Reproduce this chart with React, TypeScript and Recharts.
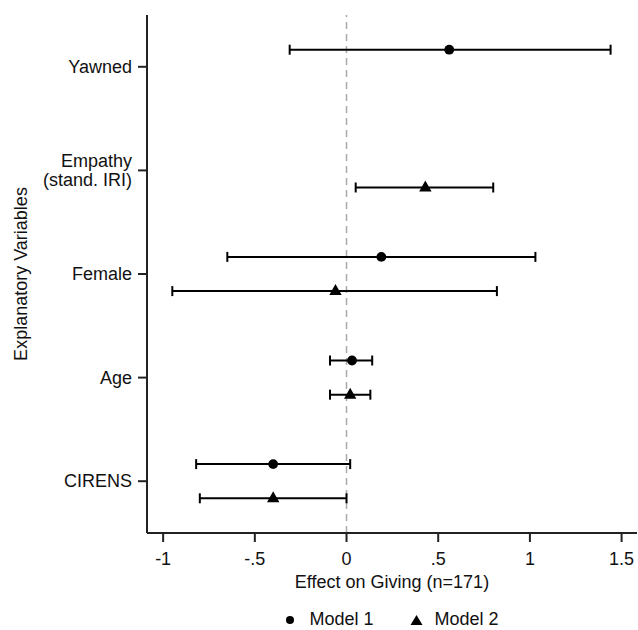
import React from 'react';
import {
  ErrorBar,
  Legend,
  ReferenceLine,
  Scatter,
  ScatterChart,
  XAxis,
  YAxis,
} from 'recharts';

const variables = ['Yawned', 'Empathy\n(stand. IRI)', 'Female', 'Age', 'CIRENS'];

// estimate, lower CI, upper CI per variable
const model1 = [
  { variable: 'Yawned', est: 0.56, lo: -0.31, hi: 1.44 },
  { variable: 'Female', est: 0.19, lo: -0.65, hi: 1.03 },
  { variable: 'Age', est: 0.03, lo: -0.09, hi: 0.14 },
  { variable: 'CIRENS', est: -0.4, lo: -0.82, hi: 0.02 },
];

const model2 = [
  { variable: 'Empathy\n(stand. IRI)', est: 0.43, lo: 0.05, hi: 0.8 },
  { variable: 'Female', est: -0.06, lo: -0.95, hi: 0.82 },
  { variable: 'Age', est: 0.02, lo: -0.09, hi: 0.13 },
  { variable: 'CIRENS', est: -0.4, lo: -0.8, hi: 0.0 },
];

const xTicks = [-1, -0.5, 0, 0.5, 1, 1.5];
const xTickLabels = ['-1', '-.5', '0', '.5', '1', '1.5'];

const FONT = '"Liberation Sans", Arial, sans-serif';
const OFFSET = 0.165;

const toRows = (rows: typeof model1, shift: number) =>
  rows.map((r) => ({
    est: r.est,
    pos: variables.length - variables.indexOf(r.variable) + shift,
    err: [r.est - r.lo, r.hi - r.est],
  }));

const rows1 = toRows(model1, OFFSET);
const rows2 = toRows(model2, -OFFSET);

const Dot = (props: any) => <circle cx={props.cx} cy={props.cy} r={4.9} fill="#000" />;

const Tri = (props: any) => {
  const { cx, cy } = props;
  return <polygon points={`${cx - 6.2},${cy + 4} ${cx + 6.2},${cy + 4} ${cx},${cy - 7}`} fill="#000" />;
};

const YTick = (props: any) => {
  const { x, y, payload } = props;
  const label = variables[variables.length - payload.value] || '';
  const lines = label.split('\n');
  const lh = 18.5;
  const start = -((lines.length - 1) * lh) / 2;
  return (
    <text x={x} y={y} textAnchor="end" fontSize={18} fontFamily={FONT} fill="#111">
      {lines.map((l: string, i: number) => (
        <tspan key={i} x={x} dy={i === 0 ? start + 6 : lh}>
          {l}
        </tspan>
      ))}
    </text>
  );
};

const YLabel = (props: any) => {
  const { viewBox } = props;
  const cy = viewBox.y + viewBox.height / 2;
  return (
    <text
      x={21}
      y={cy}
      transform={`rotate(-90, 21, ${cy})`}
      textAnchor="middle"
      dominantBaseline="central"
      fontSize={18}
      fontFamily={FONT}
      fill="#111"
    >
      Explanatory Variables
    </text>
  );
};

const XLabel = (props: any) => {
  const { viewBox } = props;
  return (
    <text
      x={viewBox.x + viewBox.width / 2}
      y={588}
      textAnchor="middle"
      fontSize={18}
      fontFamily={FONT}
      fill="#111"
    >
      Effect on Giving (n=171)
    </text>
  );
};

const LegendContent = () => (
  <div
    style={{
      display: 'flex',
      justifyContent: 'center',
      alignItems: 'center',
      paddingTop: 14,
      height: 21,
      lineHeight: '21px',
      fontSize: 18,
      fontFamily: FONT,
      color: '#111',
    }}
  >
    <svg width={10} height={10} style={{ marginRight: 14 }}>
      <circle cx={5} cy={5} r={4} fill="#000" />
    </svg>
    <span style={{ marginRight: 36 }}>Model 1</span>
    <svg width={13} height={12} style={{ marginRight: 12 }}>
      <polygon points="0.5,11 12.5,11 6.5,1" fill="#000" />
    </svg>
    <span>Model 2</span>
  </div>
);

export default function App() {
  return (
    <div style={{ position: 'absolute', left: 0, top: 0, background: '#fff' }}>
      <ScatterChart width={638} height={630} margin={{ top: 15, right: 1, bottom: 0, left: 0 }}>
        <XAxis
          type="number"
          dataKey="est"
          domain={[-1.088, 1.584]}
          allowDataOverflow
          ticks={xTicks}
          tickFormatter={(v: number) => xTickLabels[xTicks.indexOf(v)]}
          height={62}
          tickSize={9}
          tickMargin={10}
          axisLine={{ stroke: '#222', strokeWidth: 2 }}
          tickLine={{ stroke: '#222', strokeWidth: 2 }}
          tick={{ fontSize: 18, fontFamily: FONT, fill: '#111' }}
          label={<XLabel />}
        />
        <YAxis
          type="number"
          dataKey="pos"
          domain={[0.5, 5.5]}
          allowDataOverflow
          ticks={[1, 2, 3, 4, 5]}
          width={147}
          tickSize={9}
          tickMargin={6}
          axisLine={{ stroke: '#222', strokeWidth: 2 }}
          tickLine={{ stroke: '#222', strokeWidth: 2 }}
          tick={<YTick />}
          label={<YLabel />}
        />
        <ReferenceLine x={0} stroke="#aaa" strokeWidth={1.5} strokeDasharray="7 5" />
        <Legend
          verticalAlign="bottom"
          height={35}
          wrapperStyle={{ left: 147, width: 490, height: 35, overflow: 'visible' }}
          content={<LegendContent />}
        />
        <Scatter name="Model 1" data={rows1} shape={<Dot />} isAnimationActive={false}>
          <ErrorBar dataKey="err" direction="x" width={5} stroke="#000" strokeWidth={2} isAnimationActive={false} />
        </Scatter>
        <Scatter name="Model 2" data={rows2} shape={<Tri />} isAnimationActive={false}>
          <ErrorBar dataKey="err" direction="x" width={5} stroke="#000" strokeWidth={2} isAnimationActive={false} />
        </Scatter>
      </ScatterChart>
    </div>
  );
}
